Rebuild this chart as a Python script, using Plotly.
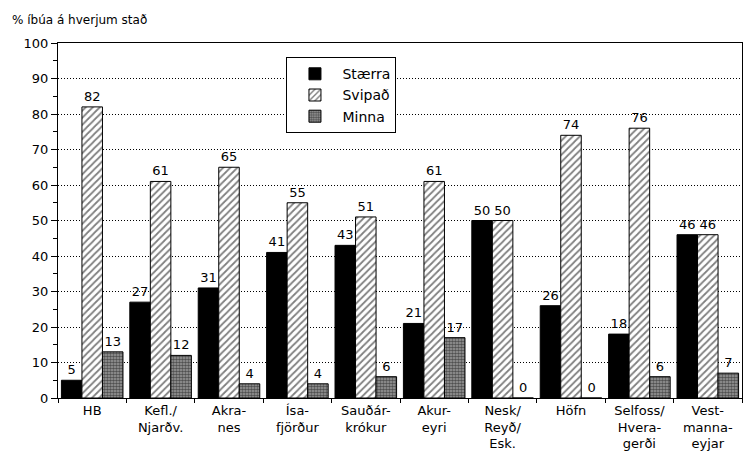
import plotly.graph_objects as go

categories = ["HB", "Kefl./<br>Njarðv.", "Akra-<br>nes", "Ísa-<br>fjörður", "Sauðár-<br>krókur",
              "Akur-<br>eyri", "Nesk/<br>Reyð/<br>Esk.", "Höfn", "Selfoss/<br>Hvera-<br>gerði", "Vest-<br>manna-<br>eyjar"]
staerra = [5, 27, 31, 41, 43, 21, 50, 26, 18, 46]
svipad = [82, 61, 65, 55, 51, 61, 50, 74, 76, 46]
minna = [13, 12, 4, 4, 6, 17, 0, 0, 6, 7]
y_ticks = [0, 10, 20, 30, 40, 50, 60, 70, 80, 90, 100]

font = dict(family="DejaVu Sans", size=13, color="black")

fig = go.Figure()
fig.add_trace(go.Bar(name="Stærra", x=categories, y=staerra, text=staerra,
                     marker=dict(color="black", line=dict(color="black", width=1))))
fig.add_trace(go.Bar(name="Svipað", x=categories, y=svipad, text=svipad,
                     marker=dict(color="white", line=dict(color="black", width=1),
                                 pattern=dict(shape="/", fgcolor="black", bgcolor="white",
                                              size=5, solidity=0.35))))
fig.add_trace(go.Bar(name="Minna", x=categories, y=minna, text=minna,
                     marker=dict(color="white", line=dict(color="black", width=1),
                                 pattern=dict(shape=".", fgcolor="black", bgcolor="#a0a0a0",
                                              size=3, solidity=0.6))))
fig.update_traces(textposition="outside", cliponaxis=False, textfont=font)

fig.update_layout(
    width=745, height=475,
    margin=dict(l=58, r=3, t=43, b=77),
    plot_bgcolor="white", paper_bgcolor="white",
    font=font,
    barmode="group", bargap=0.1, bargroupgap=0,
    showlegend=True,
    legend=dict(x=0.334, y=0.96, xanchor="left", yanchor="top",
                bordercolor="black", borderwidth=1, bgcolor="white",
                font=dict(family="DejaVu Sans", size=14), itemwidth=45,
                tracegroupgap=0),
    xaxis=dict(showline=True, linecolor="black", linewidth=1, mirror=True,
               ticks="outside", tickson="boundaries", ticklen=4, tickcolor="black",
               showgrid=False, automargin=False),
    yaxis=dict(range=[0, 100], tickvals=y_ticks, showline=True, linecolor="black",
               linewidth=1, mirror=True, ticks="outside", ticklen=6, tickcolor="black",
               showgrid=True, gridcolor="#000000", griddash="1px,2px", gridwidth=1,
               automargin=False,
               minor=dict(ticks="outside", dtick=5, ticklen=4, tickcolor="black", showgrid=False),
               zeroline=False),
    annotations=[dict(text="% íbúa á hverjum stað", xref="paper", yref="paper",
                      x=-0.07, y=1.04, xanchor="left", yanchor="bottom",
                      showarrow=False, font=dict(family="DejaVu Sans", size=12))],
)

fig.write_html("out.html", config={"displayModeBar": False},
               post_script="document.body.style.margin='0';document.body.style.overflow='hidden';")
